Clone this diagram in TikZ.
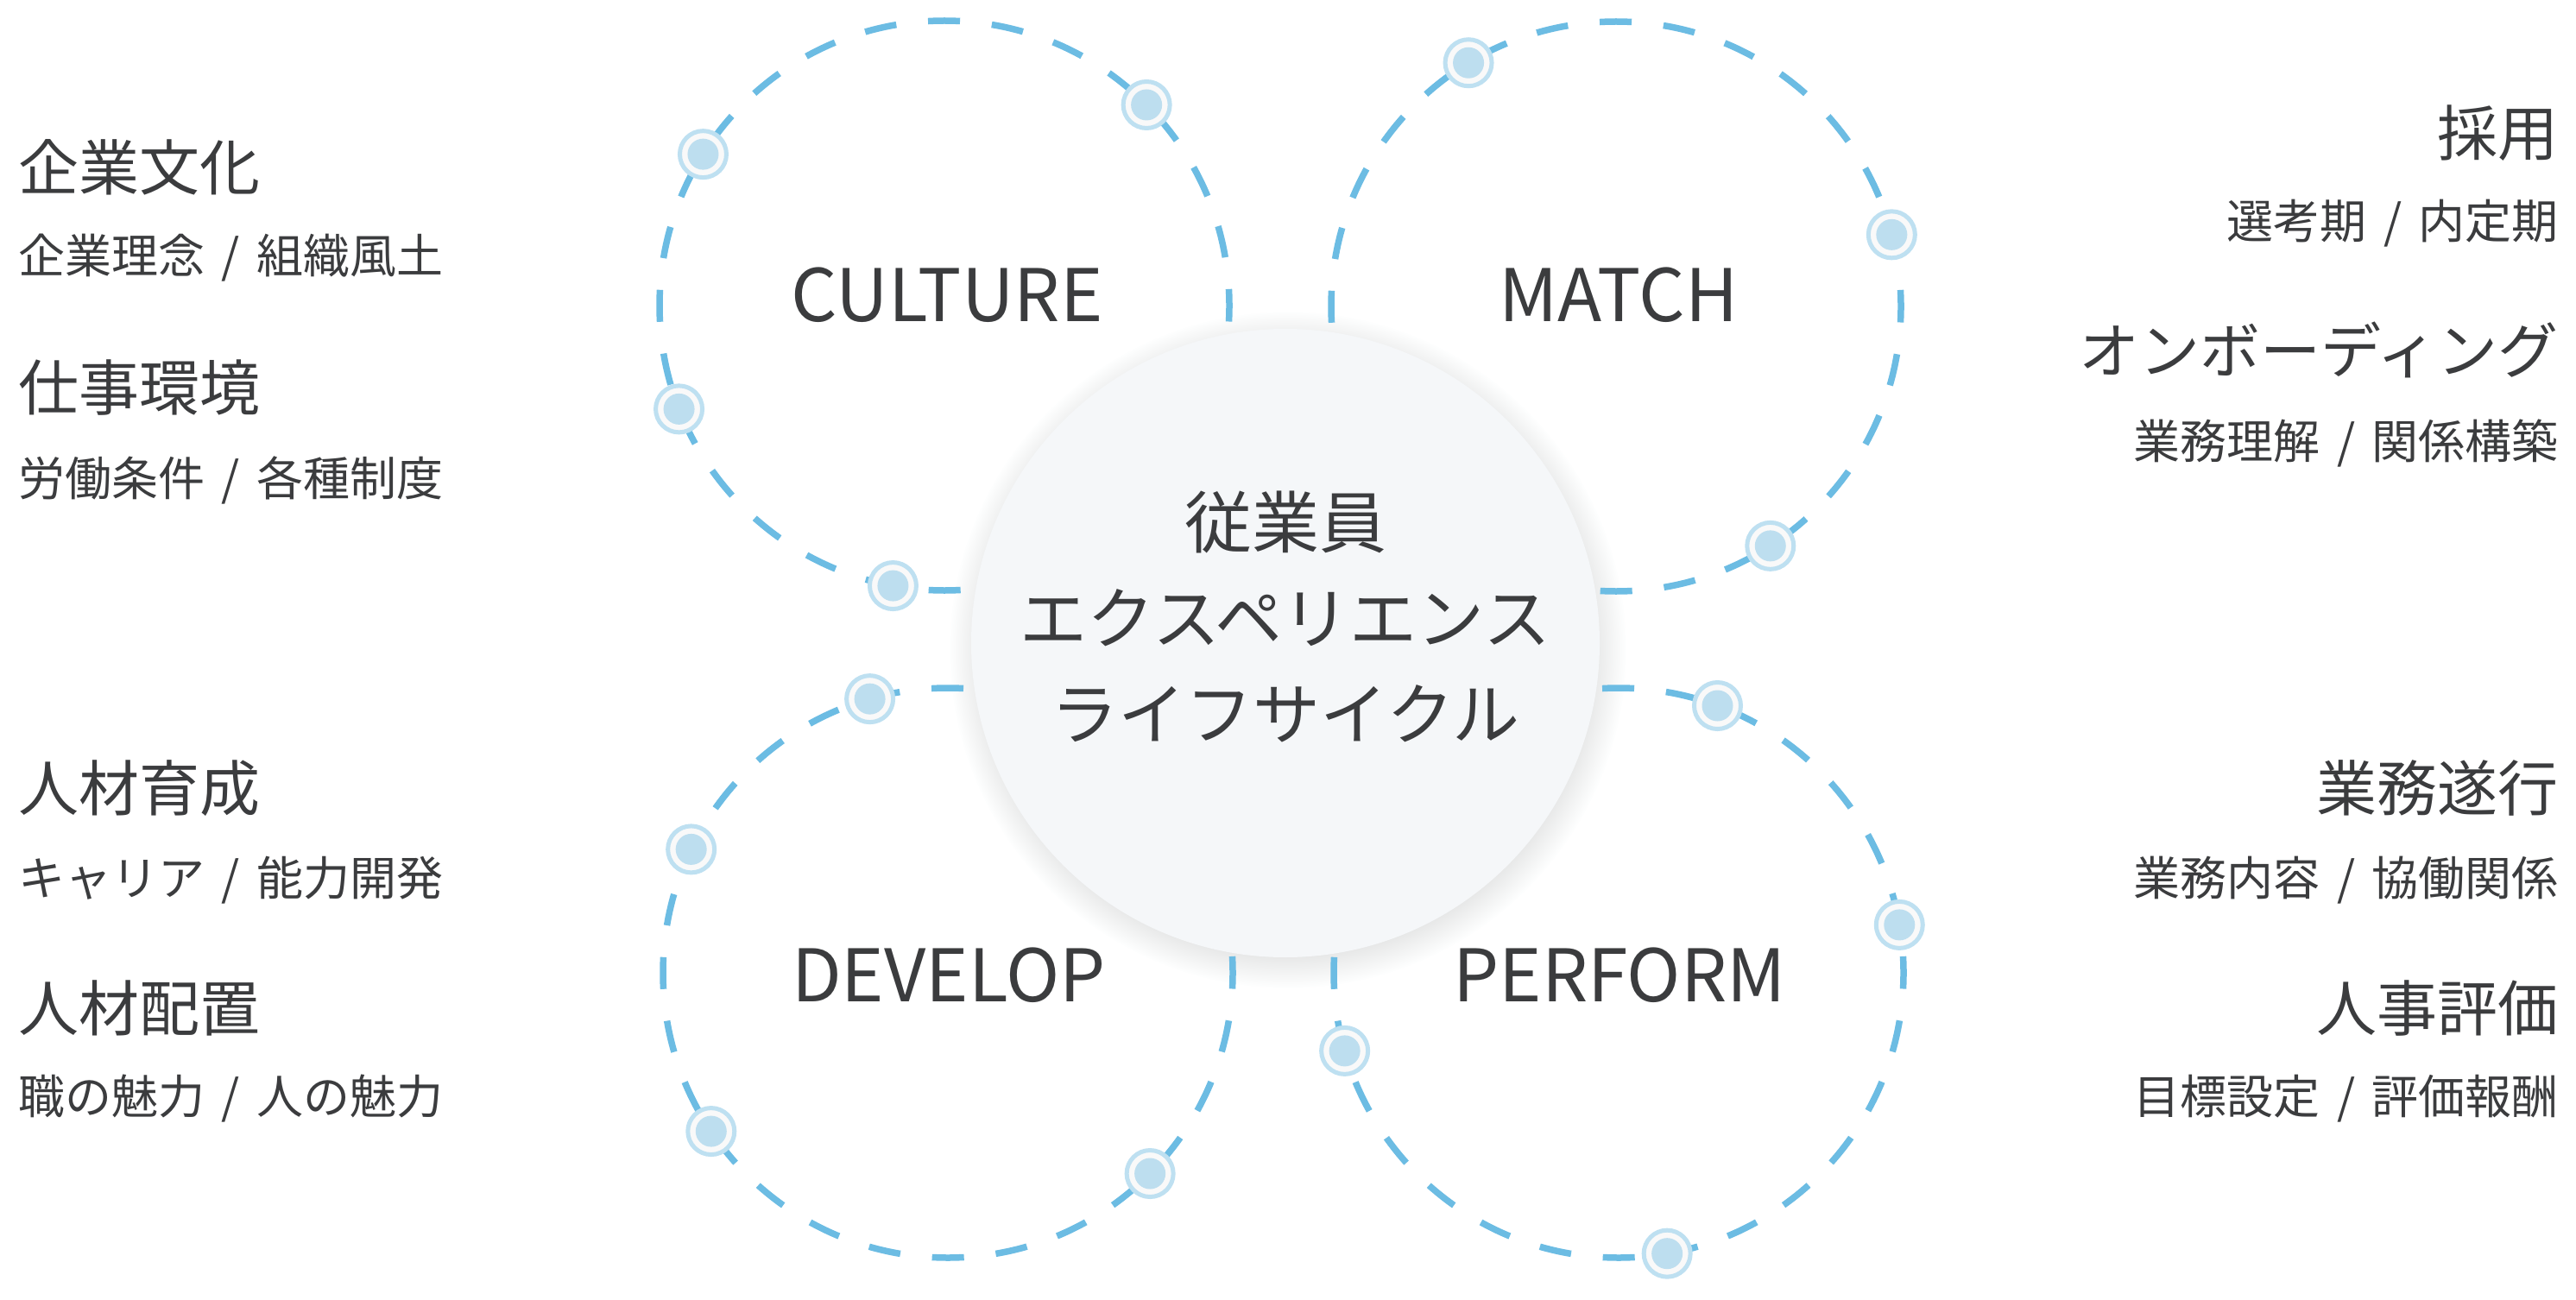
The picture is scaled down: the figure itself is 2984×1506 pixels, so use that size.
\documentclass[tikz,border=0pt]{standalone}
\usepackage{fontspec}
\setmainfont{Noto Sans CJK JP}
\usetikzlibrary{calc}
\definecolor{dashc}{HTML}{6CBCE3}
\definecolor{ringc}{HTML}{BEE0F1}
\definecolor{dotc}{HTML}{BDDEEF}
\definecolor{dotfill}{HTML}{F9F9F9}
\definecolor{txt}{HTML}{3B3C3E}
\definecolor{ccfill}{HTML}{F5F7F9}
\definecolor{shadc}{HTML}{7F8E9A}
\newcommand{\slsep}{\hspace{0.36em}/\hspace{0.36em}}
\tikzset{
  ringdash/.style={draw=dashc, line width=7.5pt, dash pattern=on 37.02pt off 37.02pt, dash phase=18.51pt},
  dotnode/.style={circle, draw=ringc, line width=5pt, fill=dotfill, minimum size=54pt, inner sep=0pt,
    path picture={\fill[dotc] (path picture bounding box.center) circle (18pt);}},
  phase/.style={font=\fontsize{84}{96}\selectfont, text=txt, inner sep=0pt},
  head/.style={font=\fontsize{70}{80}\selectfont, text=txt, inner sep=0pt},
  subtxt/.style={font=\fontsize{54}{64}\selectfont, text=txt, inner sep=0pt},
}
\begin{document}
\begin{tikzpicture}[x=1pt, y=-1pt]
\useasboundingbox (0,0) rectangle (2984,1506);
\fill[white] (0,0) rectangle (2984,1506);
% circle centres
\coordinate (cul) at (1094,354);
\coordinate (mat) at (1872,355);
\coordinate (dev) at (1098,1127);
\coordinate (per) at (1875,1127);
\coordinate (hubc) at (1489,745);
% shadow of the hub
\foreach \i in {0,...,26}
  \fill[shadc, opacity=0.009] ($(hubc)+(3,8)$) circle ({350+\i*1.6});
% dashed rings
\draw[ringdash] (cul) circle (330);
\draw[ringdash] (mat) circle (330);
\draw[ringdash] (dev) circle (330);
\draw[ringdash] (per) circle (330);
% hub
\node[circle, fill=ccfill, minimum size=728pt, inner sep=0pt] (hub) at (hubc) {};
\node[font=\fontsize{78}{111}\selectfont, align=center, text=txt, inner sep=0pt] (core) at (1489,714)
  {従業員\\エクスペリエンス\\ライフサイクル};
% phase labels
\node[phase] (lculture) at (1097,342) {CULTURE};
\node[phase] (lmatch) at (1875,342) {MATCH};
\node[phase] (ldevelop) at (1099,1130) {DEVELOP};
\node[phase] (lperform) at (1876,1130) {PERFORM};
% dots
\node[dotnode] (c1) at ($(cul)+(-44.8:330)$) {};
\node[dotnode] (c2) at ($(cul)+(212.1:330)$) {};
\node[dotnode] (c3) at ($(cul)+(158.7:330)$) {};
\node[dotnode] (c4) at ($(cul)+(100.4:330)$) {};
\node[dotnode] (m1) at ($(mat)+(238.8:330)$) {};
\node[dotnode] (m2) at ($(mat)+(-14.6:330)$) {};
\node[dotnode] (m3) at ($(mat)+(57.2:330)$) {};
\node[dotnode] (d1) at ($(dev)+(254.1:330)$) {};
\node[dotnode] (d2) at ($(dev)+(205.7:330)$) {};
\node[dotnode] (d3) at ($(dev)+(146.2:330)$) {};
\node[dotnode] (d4) at ($(dev)+(44.8:330)$) {};
\node[dotnode] (p1) at ($(per)+(-69.7:330)$) {};
\node[dotnode] (p2) at ($(per)+(-9.7:330)$) {};
\node[dotnode] (p3) at ($(per)+(164.1:330)$) {};
\node[dotnode] (p4) at ($(per)+(80.2:330)$) {};
% left texts
\node[head, anchor=west] (h1) at (21,194) {企業文化};
\node[subtxt, anchor=west] (s1) at (21,299) {企業理念\slsep 組織風土};
\node[head, anchor=west] (h2) at (21,449) {仕事環境};
\node[subtxt, anchor=west] (s2) at (21,556) {労働条件\slsep 各種制度};
\node[head, anchor=west] (h3) at (21,913) {人材育成};
\node[subtxt, anchor=west] (s3) at (21,1020) {キャリア\slsep 能力開発};
\node[head, anchor=west] (h4) at (21,1168) {人材配置};
\node[subtxt, anchor=west] (s4) at (21,1273) {職の魅力\slsep 人の魅力};
% right texts
\node[head, anchor=east] (h5) at (2964,154) {採用};
\node[subtxt, anchor=east] (s5) at (2964,259) {選考期\slsep 内定期};
\node[head, anchor=east] (h6) at (2964,405) {オンボーディング};
\node[subtxt, anchor=east] (s6) at (2964,514) {業務理解\slsep 関係構築};
\node[head, anchor=east] (h7) at (2964,913) {業務遂行};
\node[subtxt, anchor=east] (s7) at (2964,1020) {業務内容\slsep 協働関係};
\node[head, anchor=east] (h8) at (2964,1168) {人事評価};
\node[subtxt, anchor=east] (s8) at (2964,1273) {目標設定\slsep 評価報酬};
\end{tikzpicture}
\end{document}
